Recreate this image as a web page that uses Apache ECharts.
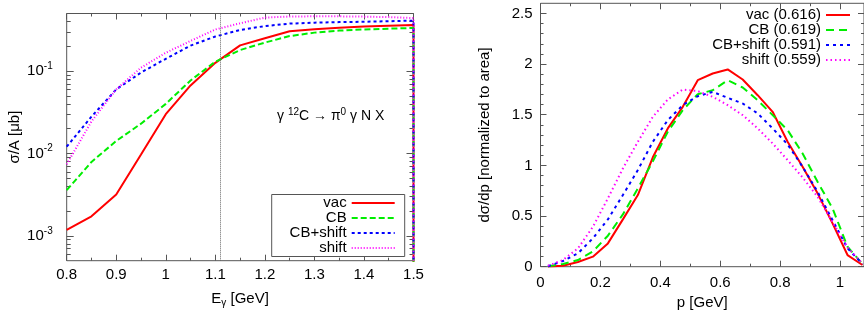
<!DOCTYPE html>
<html><head><meta charset="utf-8">
<script src="https://cdn.jsdelivr.net/npm/echarts@6/dist/echarts.min.js"></script>
<style>html,body{margin:0;padding:0;background:#fff}#c{width:864px;height:321px}</style>
</head><body><div id="c"></div>
<script>
// ---------- left panel: sigma/A vs E_gamma (log scale) ----------
const energies = [0.8,0.85,0.9,0.95,1.0,1.05,1.1,1.15,1.2,1.25,1.3,1.35,1.4,1.45,1.5,1.5];
const sigVac     = [0.00118,0.00173,0.00318,0.0097,0.030,0.067,0.126,0.205,0.25,0.305,0.322,0.336,0.348,0.356,0.362,1e-5];
const sigCB      = [0.0036,0.0079,0.0142,0.023,0.040,0.077,0.130,0.18,0.222,0.266,0.293,0.31,0.32,0.327,0.334,1e-5];
const sigCBshift = [0.0121,0.028,0.060,0.096,0.141,0.204,0.263,0.315,0.352,0.377,0.387,0.393,0.397,0.403,0.41,1e-5];
const sigShift   = [0.0074,0.0245,0.060,0.11,0.167,0.232,0.32,0.38,0.446,0.46,0.462,0.462,0.458,0.452,0.44,1e-5];
const leftNames  = ['vac','CB','CB+shift','shift'];
const thresholdE = 1.109;
const leftXMajor = [0.8,0.9,1.0,1.1,1.2,1.3,1.4,1.5];
const leftXMinor = [0.85,0.95,1.05,1.15,1.25,1.35,1.45];
const leftYMajor = [0.001,0.01,0.1];
const leftYMinor = [];
[0.0001,0.001,0.01,0.1].forEach(d => { for (let m = 2; m <= 9; m++) { const v = +(d*m).toPrecision(3); if (v > 0.0005 && v <= 0.5) leftYMinor.push(v); } });

// ---------- right panel: momentum distributions ----------
const momenta = [0.025,0.075,0.125,0.175,0.225,0.275,0.325,0.375,0.425,0.475,0.525,0.575,0.625,0.675,0.725,0.775,0.825,0.875,0.925,0.975,1.025,1.075];
const dVac     = [0.003,0.01,0.046,0.099,0.23,0.467,0.707,1.08,1.365,1.578,1.841,1.907,1.947,1.848,1.693,1.529,1.233,0.986,0.724,0.428,0.115,0.017];
const dCB      = [0.005,0.027,0.066,0.151,0.306,0.516,0.773,1.04,1.332,1.545,1.703,1.742,1.841,1.769,1.644,1.496,1.348,1.118,0.838,0.576,0.197,0.027];
const dCBshift = [0.005,0.056,0.132,0.28,0.467,0.707,0.954,1.233,1.447,1.595,1.683,1.726,1.667,1.611,1.513,1.365,1.207,0.986,0.74,0.46,0.181,0.027];
const dShift   = [0.01,0.066,0.181,0.394,0.674,0.97,1.233,1.479,1.651,1.749,1.733,1.677,1.595,1.496,1.365,1.217,1.052,0.881,0.69,0.44,0.19,0.03];
const rightNames = ['vac (0.616)','CB (0.619)','CB+shift (0.591)','shift (0.559)'];
const rightXMajor = [0,0.2,0.4,0.6,0.8,1.0];
const rightXMinor = [0.1,0.3,0.5,0.7,0.9];
const rightYMajor = [0,0.5,1,1.5,2,2.5];
const rightYMinor = [0.1,0.2,0.3,0.4,0.6,0.7,0.8,0.9,1.1,1.2,1.3,1.4,1.6,1.7,1.8,1.9,2.1,2.2,2.3,2.4];

const colors = ['#ff0000','#00ee00','#0000ff','#ff00ff'];
const leftDash  = ['solid',[6,3],[3,3],[1,2]];
const rightDash = ['solid',[8,5],[3,4],[1.5,3]];
const FONT = 'Liberation Sans';
const TICK = '#555';

function pairs(xs, ys){ return xs.map((x,i)=>[x, ys[i]]); }

function tickAxis(base, grid, pos, vals, len){
  return Object.assign({}, base, {
    gridIndex: grid, position: pos,
    axisLine: {show:false, onZero:false},
    axisTick: {show:true, inside:true, length:len, customValues: vals, lineStyle:{color:TICK, width:1}},
    axisLabel: {show:false},
    splitLine: {show:false}
  });
}

const lxBase = {type:'value', min:0.8, max:1.5};
const lyBase = {type:'log', logBase:10, min:0.0005, max:0.5};
const rxBase = {type:'value', min:0, max:1.08};
const ryBase = {type:'value', min:0, max:2.6};

const xAxes = [
  Object.assign(tickAxis(lxBase,0,'bottom',leftXMajor,6), {
    axisLabel:{show:true, customValues:leftXMajor, margin:7, fontSize:15, fontFamily:FONT, color:'#000', formatter: v => String(+v.toFixed(1))},
    name:'E{sub|γ} [GeV]', nameLocation:'middle', nameGap:28,
    nameTextStyle:{fontSize:15, fontFamily:FONT, color:'#000', lineHeight:20, rich:{sub:{fontSize:10, fontFamily:FONT, verticalAlign:'bottom', lineHeight:10}}}
  }),
  tickAxis(lxBase,0,'bottom',leftXMinor,3),
  tickAxis(lxBase,0,'top',leftXMajor,6),
  tickAxis(lxBase,0,'top',leftXMinor,3),
  Object.assign(tickAxis(rxBase,1,'bottom',rightXMajor,6), {
    axisLabel:{show:true, customValues:rightXMajor, margin:9, fontSize:15, fontFamily:FONT, color:'#000', formatter: v => String(+v.toFixed(1))},
    name:'p [GeV]', nameLocation:'middle', nameGap:29,
    nameTextStyle:{fontSize:15, fontFamily:FONT, color:'#000'}
  }),
  tickAxis(rxBase,1,'bottom',rightXMinor,3),
  tickAxis(rxBase,1,'top',rightXMajor,6),
  tickAxis(rxBase,1,'top',rightXMinor,3)
];
const yAxes = [
  Object.assign(tickAxis(lyBase,0,'left',leftYMajor,7), {
    axisLabel:{show:true, customValues:leftYMajor, margin:14, fontSize:15, fontFamily:FONT, color:'#000', lineHeight:20,
      formatter: v => '10{s|' + Math.round(Math.log10(v)) + '}',
      rich:{s:{fontSize:10, fontFamily:FONT, color:'#000', verticalAlign:'top', lineHeight:10}}},
    name:'σ/A [μb]', nameLocation:'middle', nameGap:44,
    nameTextStyle:{fontSize:15, fontFamily:FONT, color:'#000'}
  }),
  tickAxis(lyBase,0,'left',leftYMinor,4),
  tickAxis(lyBase,0,'right',leftYMajor,7),
  tickAxis(lyBase,0,'right',leftYMinor,4),
  Object.assign(tickAxis(ryBase,1,'left',rightYMajor,6), {
    axisLabel:{show:true, customValues:rightYMajor, margin:8, fontSize:15, fontFamily:FONT, color:'#000', formatter: v => String(v)},
    name:'dσ/dp [normalized to area]', nameLocation:'middle', nameGap:48,
    nameTextStyle:{fontSize:15, fontFamily:FONT, color:'#000'}
  }),
  tickAxis(ryBase,1,'left',rightYMinor,3),
  tickAxis(ryBase,1,'right',rightYMajor,6),
  tickAxis(ryBase,1,'right',rightYMinor,3)
];

const leftData  = [sigVac, sigCB, sigCBshift, sigShift];
const rightData = [dVac, dCB, dCBshift, dShift];
const series = [];
leftData.forEach((ys,i) => {
  const s = {type:'line', name:leftNames[i], xAxisIndex:0, yAxisIndex:0, data:pairs(energies, ys),
    showSymbol:false, symbol:'none', clip:true, z:3,
    lineStyle:{color:colors[i], width:2, type:leftDash[i]}, itemStyle:{color:colors[i]}};
  if (i === 0) s.markLine = {silent:true, symbol:['none','none'], label:{show:false},
    lineStyle:{color:'#666', width:1, type:[1,1]}, data:[{xAxis:thresholdE}], animation:false};
  series.push(s);
});
rightData.forEach((ys,i) => {
  series.push({type:'line', name:rightNames[i], xAxisIndex:4, yAxisIndex:4, data:pairs(momenta, ys),
    showSymbol:false, symbol:'none', clip:true, z:3,
    lineStyle:{color:colors[i], width:2, type:rightDash[i]}, itemStyle:{color:colors[i]}});
});

const option = {
  animation:false,
  backgroundColor:'#fff',
  grid:[
    {left:66.7, top:13.5, width:346.8, height:247.2, show:true, borderColor:TICK, borderWidth:1, backgroundColor:'transparent'},
    {left:540.5, top:3.3, width:323.5, height:263.4, show:true, borderColor:TICK, borderWidth:1, backgroundColor:'transparent'}
  ],
  xAxis: xAxes, yAxis: yAxes,
  legend:[
    {data:leftNames, orient:'vertical', align:'right', left:271.7, top:194.5, itemGap:0, itemWidth:43, itemHeight:10,
     padding:[1,9,1,3], backgroundColor:'#fff', borderColor:TICK, borderWidth:1, borderRadius:0,
     itemStyle:{opacity:0}, selectedMode:false, formatter: n => '{t|' + n + '}',
     textStyle:{fontSize:15, fontFamily:FONT, color:'#000', rich:{t:{width:72, align:'right', fontSize:15, fontFamily:FONT, lineHeight:15}}}},
    {data:rightNames, orient:'vertical', align:'right', left:706, top:7.5, itemGap:0, itemWidth:24, itemHeight:10,
     padding:0, itemStyle:{opacity:0}, selectedMode:false, formatter: n => '{t|' + n + '}',
     textStyle:{fontSize:15, fontFamily:FONT, color:'#000', rich:{t:{width:115, align:'right', fontSize:15, fontFamily:FONT, lineHeight:15}}}}
  ],
  graphic:[
    {type:'text', x:277, y:107, z:10,
     style:{text:'γ {s|12}C → π{s|0} γ N X', fontSize:14, fontFamily:FONT, fill:'#000', lineHeight:18,
       rich:{s:{fontSize:10, fontFamily:FONT, fill:'#000', verticalAlign:'top', lineHeight:9}}}}
  ],
  series: series
};
const chart = echarts.init(document.getElementById('c'), null, {renderer:'canvas'});
chart.setOption(option);
</script></body></html>
